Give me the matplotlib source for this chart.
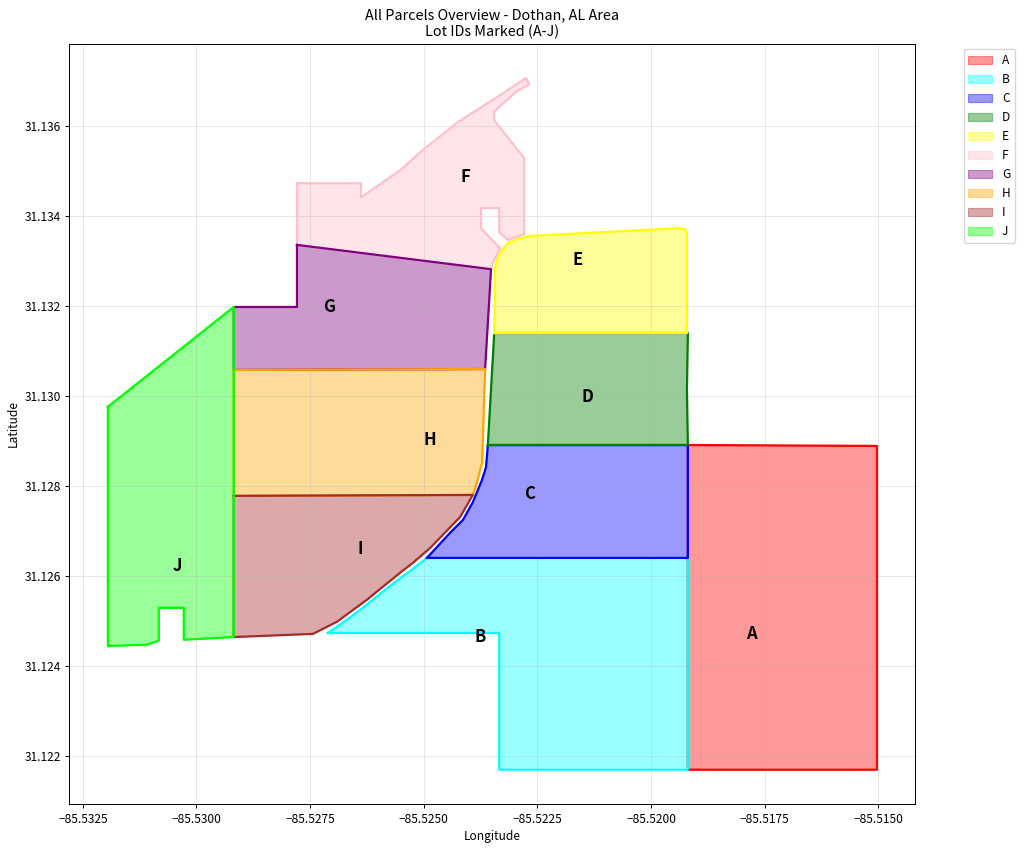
"""All parcels overview map, lots A-J."""
import matplotlib
matplotlib.use("Agg")
import matplotlib.pyplot as plt

plt.rcParams["font.family"] = ["Noto Sans CJK JP", "DejaVu Sans"]
plt.rcParams.update({
    "font.size": 8.6,
    "axes.linewidth": 0.7,
    "xtick.major.size": 3, "ytick.major.size": 3,
    "xtick.major.width": 0.7, "ytick.major.width": 0.7,
    "xtick.major.pad": 3, "ytick.major.pad": 3,
    "axes.labelpad": 3.4,
    "grid.linewidth": 0.7,
})

LOTS = ["A", "B", "C", "D", "E", "F", "G", "H", "I", "J"]
COLORS = ["red", "cyan", "blue", "green", "yellow", "pink", "purple", "orange", "brown", "lime"]

A_LON = [-85.51919, -85.51503, -85.51503, -85.51919]
A_LAT = [31.12891, 31.12889, 31.12169, 31.12169]

B_LON = [-85.52711, -85.52678, -85.52634, -85.52574, -85.52530, -85.52493, -85.51919, -85.51919, -85.52334, -85.52334]
B_LAT = [31.12473, 31.12496, 31.12529, 31.12578, 31.12611, 31.12640, 31.12640, 31.12169, 31.12169, 31.12473]

C_LON = [-85.52493, -85.52442, -85.52414, -85.52392, -85.52372, -85.52363, -85.52359, -85.51919, -85.51919]
C_LAT = [31.12640, 31.12696, 31.12724, 31.12764, 31.12813, 31.12842, 31.12891, 31.12891, 31.12640]

D_LON = [-85.52359, -85.52345, -85.51919, -85.51921, -85.51919]
D_LAT = [31.12891, 31.13140, 31.13140, 31.13013, 31.12891]

E_LON = [-85.52345, -85.52343, -85.52337, -85.52328, -85.52315, -85.52295, -85.52266, -85.51941, -85.51925, -85.51921, -85.51921]
E_LAT = [31.13140, 31.13287, 31.13309, 31.13324, 31.13340, 31.13349, 31.13356, 31.13373, 31.13371, 31.13362, 31.13140]

F_LON = [-85.52779, -85.52638, -85.52638, -85.52552, -85.52502, -85.52425, -85.52332, -85.52275, -85.52268, -85.52295,
         -85.52345, -85.52345, -85.52279, -85.52279, -85.52315, -85.52334, -85.52334, -85.52374, -85.52374,
         -85.52339, -85.52332, -85.52348, -85.52352, -85.52779]
F_LAT = [31.13473, 31.13473, 31.13442, 31.13502, 31.13547, 31.13609, 31.13669, 31.13707, 31.13693, 31.13678,
         31.13633, 31.13613, 31.13529, 31.13360, 31.13347, 31.13364, 31.13418, 31.13418, 31.13373,
         31.13336, 31.13329, 31.13296, 31.13282, 31.13336]

G_LON = [-85.52779, -85.52352, -85.52365, -85.52918, -85.52918, -85.52779]
G_LAT = [31.13336, 31.13282, 31.13060, 31.13058, 31.13198, 31.13198]

H_LON = [-85.52918, -85.52365, -85.52370, -85.52372, -85.52383, -85.52392, -85.52918]
H_LAT = [31.13058, 31.13060, 31.12902, 31.12851, 31.12807, 31.12780, 31.12778]

I_LON = [-85.52918, -85.52392, -85.52420, -85.52486, -85.52524, -85.52552, -85.52625, -85.52691, -85.52744, -85.52918]
I_LAT = [31.12778, 31.12780, 31.12731, 31.12662, 31.12629, 31.12607, 31.12547, 31.12498, 31.12471, 31.12464]

J_LON = [-85.53195, -85.52918, -85.52918, -85.53028, -85.53028, -85.53083, -85.53083, -85.53109, -85.53195]
J_LAT = [31.12976, 31.13198, 31.12464, 31.12458, 31.12529, 31.12529, 31.12456, 31.12447, 31.12444]

LONS = [A_LON, B_LON, C_LON, D_LON, E_LON, F_LON, G_LON, H_LON, I_LON, J_LON]
LATS = [A_LAT, B_LAT, C_LAT, D_LAT, E_LAT, F_LAT, G_LAT, H_LAT, I_LAT, J_LAT]

LABEL_LON = [-85.51780, -85.52376, -85.52268, -85.52139, -85.52161, -85.52409, -85.52709, -85.52486, -85.52640, -85.53041]
LABEL_LAT = [31.12471, 31.12464, 31.12782, 31.12998, 31.13302, 31.13487, 31.13198, 31.12902, 31.12660, 31.12622]

fig, ax = plt.subplots(figsize=(10.24, 8.5), dpi=100)
for lot, color, lon, lat in zip(LOTS, COLORS, LONS, LATS):
    ax.fill(lon, lat, color=color, alpha=0.4, lw=0.85, label=lot)
    ax.plot(lon + lon[:1], lat + lat[:1], color=color, lw=1.6)

for lot, lon, lat in zip(LOTS, LABEL_LON, LABEL_LAT):
    ax.text(lon, lat, lot, ha="center", va="center", fontsize=12, fontweight="bold")

ax.set_xlabel("Longitude")
ax.set_ylabel("Latitude")
ax.set_title("All Parcels Overview - Dothan, AL Area\nLot IDs Marked (A-J)", fontsize=10.35, pad=5)
ax.ticklabel_format(useOffset=False)
ax.grid(alpha=0.3)
ax.legend(bbox_to_anchor=(1.05, 1), loc="upper left")
fig.subplots_adjust(left=69.4 / 1024, right=915.4 / 1024, top=1 - 43.5 / 850, bottom=1 - 804.3 / 850)
fig.savefig("out.png")
